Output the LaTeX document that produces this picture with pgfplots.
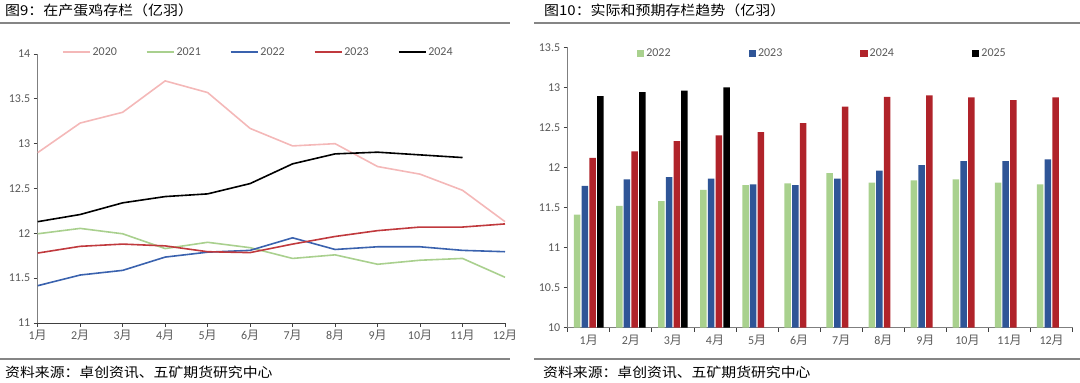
\documentclass[border=0pt]{standalone}
\usepackage{pgfplots}
\pgfplotsset{compat=1.18}
\usepackage{fontspec}
\setmainfont{Carlito}
\newfontfamily\cjk{Noto Sans CJK SC}
\newfontfamily\cjkw[FakeStretch=1.1]{Noto Sans CJK SC}
\definecolor{sepgray}{HTML}{858585}
\definecolor{tickgray}{HTML}{595959}
\definecolor{axgray}{HTML}{7F7F7F}
\definecolor{c2020}{HTML}{F4B8B8}
\definecolor{c2021}{HTML}{A9D08E}
\definecolor{c2022}{HTML}{3A62AE}
\definecolor{c2023}{HTML}{C0393D}
\definecolor{bgreen}{HTML}{A9D18E}
\definecolor{bblue}{HTML}{2F5597}
\definecolor{bred}{HTML}{B0232A}
\begin{document}
\begin{tikzpicture}
\useasboundingbox (0,0) rectangle (1080pt,383pt);
% separators
\draw[line width=2pt, sepgray] (0,360pt) -- (510pt,360pt);
\draw[line width=2pt, sepgray] (534pt,360pt) -- (1080pt,360pt);
\draw[line width=2pt, sepgray] (0,24pt) -- (510pt,24pt);
\draw[line width=2pt, sepgray] (534pt,24pt) -- (1080pt,24pt);
% titles
\node[anchor=west, inner sep=0pt] at (5pt,373pt) {\fontsize{13.6}{13.6}\cjkw 图9：在产蛋鸡存栏（亿羽）};
\node[anchor=west, inner sep=0pt] at (544pt,373pt) {\fontsize{13.6}{13.6}\cjkw 图10：实际和预期存栏趋势（亿羽）};
\node[anchor=west, inner sep=0pt] at (5pt,11pt) {\fontsize{13.5}{13.5}\cjkw 资料来源：卓创资讯、五矿期货研究中心};
\node[anchor=west, inner sep=0pt] at (543pt,11pt) {\fontsize{13.5}{13.5}\cjkw 资料来源：卓创资讯、五矿期货研究中心};

\begin{axis}[
  at={(37.7pt,60pt)}, anchor=south west, scale only axis,
  width=467.3pt, height=269pt,
  xmin=1, xmax=12, ymin=11, ymax=14,
  clip=false,
  axis x line*=bottom, axis y line*=left,
  x axis line style={-, draw=black!75, line width=0.9pt},
  y axis line style={-, draw=axgray, line width=0.9pt},
  xtick={1,...,12},
  xticklabels={1{\cjk 月},2{\cjk 月},3{\cjk 月},4{\cjk 月},5{\cjk 月},6{\cjk 月},7{\cjk 月},8{\cjk 月},9{\cjk 月},10{\cjk 月},11{\cjk 月},12{\cjk 月}},
  ytick={11,11.5,12,12.5,13,13.5,14},
  tick align=outside, major tick length=4pt,
  tick style={draw=black!75, line width=0.8pt},
  tick label style={font=\fontsize{12}{12}\selectfont, text=tickgray},
  /pgf/number format/assume math mode=true,
  legend columns=5,
  legend image code/.code={\draw[#1] (0pt,0pt) -- (27pt,0pt);},
  legend style={at={(0.052,1.0074)}, anchor=west, draw=none, fill=none,
    inner sep=0pt, outer sep=0pt, font=\fontsize{12}{12}\selectfont, text=tickgray,
    /tikz/every even column/.append style={column sep=27pt}},
  every axis plot/.append style={line width=1.6pt, mark=none},
]
\addplot[c2020] coordinates {(1,12.90)(2,13.23)(3,13.35)(4,13.70)(5,13.57)(6,13.17)(7,12.975)(8,13.00)(9,12.745)(10,12.66)(11,12.48)(12,12.13)};
\addlegendentry{2020}
\addplot[c2021] coordinates {(1,11.995)(2,12.055)(3,11.995)(4,11.83)(5,11.90)(6,11.84)(7,11.72)(8,11.76)(9,11.655)(10,11.70)(11,11.72)(12,11.51)};
\addlegendentry{2021}
\addplot[c2022] coordinates {(1,11.416)(2,11.535)(3,11.587)(4,11.735)(5,11.79)(6,11.81)(7,11.95)(8,11.82)(9,11.85)(10,11.85)(11,11.81)(12,11.795)};
\addlegendentry{2022}
\addplot[c2023] coordinates {(1,11.78)(2,11.855)(3,11.88)(4,11.86)(5,11.795)(6,11.785)(7,11.88)(8,11.965)(9,12.03)(10,12.07)(11,12.07)(12,12.105)};
\addlegendentry{2023}
\addplot[black] coordinates {(1,12.13)(2,12.21)(3,12.34)(4,12.41)(5,12.44)(6,12.555)(7,12.775)(8,12.886)(9,12.905)(10,12.875)(11,12.845)};
\addlegendentry{2024}
\end{axis}

\begin{axis}[
  at={(567.7pt,55.3pt)}, anchor=south west, scale only axis,
  width=505pt, height=280.4pt,
  xmin=0.5, xmax=12.5, ymin=10, ymax=13.5,
  ybar=1.2pt, bar width=6.5pt,
  axis x line*=bottom, axis y line*=left,
  x axis line style={-, draw=axgray, line width=0.9pt},
  y axis line style={-, draw=axgray, line width=0.9pt},
  xtick={0.5,1.5,...,11.5},
  xticklabels={1{\cjk 月},2{\cjk 月},3{\cjk 月},4{\cjk 月},5{\cjk 月},6{\cjk 月},7{\cjk 月},8{\cjk 月},9{\cjk 月},10{\cjk 月},11{\cjk 月},12{\cjk 月}},
  xticklabel style={xshift=21.04pt},
  extra x ticks={12.5}, extra x tick labels={},
  ytick={10,10.5,11,11.5,12,12.5,13,13.5},
  tick align=outside, major tick length=4pt,
  tick style={draw=black!75, line width=0.8pt},
  tick label style={font=\fontsize{12}{12}\selectfont, text=tickgray},
  /pgf/number format/assume math mode=true,
  legend columns=4,
  legend image code/.code={\fill[#1, draw=none] (0pt,-3.7pt) rectangle (7.4pt,3.7pt);},
  legend style={at={(0.137,0.9786)}, anchor=west, draw=none, fill=none,
    inner sep=0pt, outer sep=0pt, font=\fontsize{12}{12}\selectfont, text=tickgray,
    /tikz/every even column/.append style={column sep=76pt}},
]
\addplot[fill=bgreen, draw=none] coordinates {(1,11.41)(2,11.52)(3,11.58)(4,11.72)(5,11.78)(6,11.80)(7,11.93)(8,11.81)(9,11.84)(10,11.85)(11,11.81)(12,11.79)};
\addlegendentry{2022}
\addplot[fill=bblue, draw=none] coordinates {(1,11.77)(2,11.85)(3,11.88)(4,11.86)(5,11.79)(6,11.78)(7,11.86)(8,11.96)(9,12.03)(10,12.08)(11,12.08)(12,12.10)};
\addlegendentry{2023}
\addplot[fill=bred, draw=none] coordinates {(1,12.12)(2,12.20)(3,12.33)(4,12.40)(5,12.44)(6,12.555)(7,12.76)(8,12.88)(9,12.90)(10,12.875)(11,12.84)(12,12.875)};
\addlegendentry{2024}
\addplot[fill=black, draw=none] coordinates {(1,12.89)(2,12.94)(3,12.96)(4,13.00)};
\addlegendentry{2025}
\end{axis}
\end{tikzpicture}
\end{document}
